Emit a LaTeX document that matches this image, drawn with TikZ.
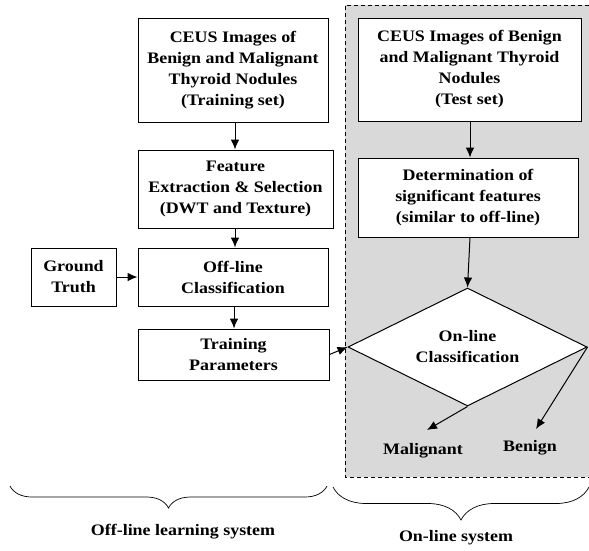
\documentclass[tikz,border=0pt]{standalone}
\usepackage{fontspec}
\setmainfont{Liberation Serif}[FakeStretch=1.12]
\usetikzlibrary{shapes.geometric,arrows.meta,decorations.pathreplacing}
\begin{document}
\begin{tikzpicture}[x=1pt,y=-1pt,
  font=\fontsize{16}{21}\selectfont\bfseries,
  box/.style={draw,fill=white,line width=1pt,align=center,inner sep=0pt},
  arr/.style={-{Latex[length=10pt,width=8.5pt]},line width=1pt},
  lbl/.style={align=center,inner sep=0pt}]
\useasboundingbox (0,0) rectangle (589,550);
\fill[white] (0,0) rectangle (589,550);
% online region
\fill[black!15] (345,5) rectangle (589,477);
\draw[line width=0.9pt,dash pattern=on 4pt off 3pt] (589,5) -- (345,5) -- (345,477) -- (589,477);
% left column
\node[box,minimum width=190pt,minimum height=104pt] (b1) at (233,70) {CEUS Images of\\Benign and Malignant\\Thyroid Nodules\\(Training set)};
\node[box,minimum width=195pt,minimum height=78pt] (b2) at (235.5,189) {Feature\\Extraction \& Selection\\(DWT and Texture)};
\node[box,minimum width=190pt,minimum height=58pt] (b3) at (233,277) {Off-line\\Classification};
\node[box,minimum width=85pt,minimum height=58pt] (gt) at (73.5,277) {Ground\\Truth};
\node[box,minimum width=191pt,minimum height=51pt] (tp) at (233.5,354.5) {Training\\Parameters};
% right column
\node[box,minimum width=223pt,minimum height=103pt] (b4) at (469.5,69.5) {CEUS Images of Benign\\and Malignant Thyroid\\Nodules\\(Test set)};
\node[box,minimum width=220pt,minimum height=79pt] (b5) at (468,197.5) {Determination of\\significant features\\(similar to off-line)};
\node[diamond,draw,fill=white,line width=1pt,align=center,inner sep=0pt,aspect=2,minimum width=239pt,minimum height=118pt] (d) at (467.5,347) {On-line\\Classification};
\node[lbl] (mal) at (423,451) {Malignant};
\node[lbl] (ben) at (530,448) {Benign};
\coordinate (mtip) at (427,430);
\coordinate (btip) at (536,429);
% arrows
\draw[arr] (b1.south -| 235,0) -- (b2.north -| 235,0);
\draw[arr] (b2.south -| 235,0) -- (b3.north -| 235,0);
\draw[arr] (b3.south -| 234,0) -- (tp.north -| 234,0);
\draw[arr] (gt.east) -- (b3.west);
\draw[arr] (tp.east) -- (d.west);
\draw[arr] (b4.south -| 470,0) -- (b5.north -| 470,0);
\draw[arr] (b5.south -| 470,0) -- (d.north);
\draw[arr] (d.south) -- (mtip);
\draw[arr] (d.east) -- (btip);
% braces
\draw[line width=0.7pt,decorate,decoration={brace,mirror,amplitude=22pt}] (10,486) -- (327,486);
\draw[line width=0.7pt,decorate,decoration={brace,mirror,amplitude=33pt}] (333,487) -- (589,487);
\node[lbl] (offl) at (183,532) {Off-line learning system};
\node[lbl] (onl) at (456,538) {On-line system};
\end{tikzpicture}
\end{document}
